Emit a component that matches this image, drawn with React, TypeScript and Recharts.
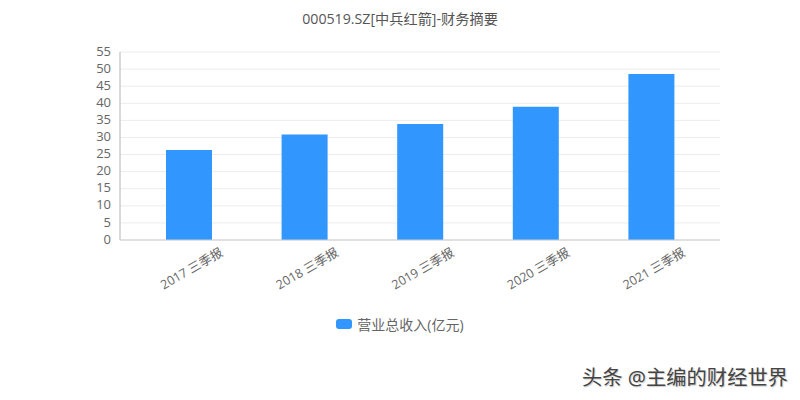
import { Bar, BarChart, CartesianGrid, Legend, XAxis, YAxis } from "recharts";

const categories = ["2017 三季报", "2018 三季报", "2019 三季报", "2020 三季报", "2021 三季报"];
const revenue = [26.3, 30.9, 33.9, 39.0, 48.6];
const yTicks = [0, 5, 10, 15, 20, 25, 30, 35, 40, 45, 50, 55];
const seriesName = "营业总收入(亿元)";
const title = "000519.SZ[中兵红箭]-财务摘要";
const watermark = "头条 @主编的财经世界";

const FONT = '"Open Sans", "Noto Sans CJK SC", sans-serif';

const chartData = categories.map((name, i) => ({ name, revenue: revenue[i] }));

function AngledTick({ x, y, payload }: any) {
  return (
    <text
      x={x}
      y={y}
      dx={35}
      dy={7}
      fill="#666"
      fontSize={12.5}
      fontFamily={FONT}
      textAnchor="end"
      transform={`rotate(-30 ${x + 35} ${y + 7})`}
    >
      {payload.value}
    </text>
  );
}

function LegendBox() {
  return (
    <div
      style={{
        display: "flex",
        justifyContent: "center",
        alignItems: "center",
        fontFamily: FONT,
        fontSize: 14,
        color: "#666",
      }}
    >
      <span
        style={{
          width: 16,
          height: 10,
          marginRight: 5,
          borderRadius: 3,
          background: "#3196fe",
        }}
      />
      {seriesName}
    </div>
  );
}

export default function App() {
  return (
    <div style={{ position: "absolute", left: 0, top: 0, width: 800, height: 400, background: "#fff" }}>
      <div
        style={{
          position: "absolute",
          top: 8,
          width: 800,
          textAlign: "center",
          fontFamily: FONT,
          fontSize: 14.2,
          color: "#555",
        }}
      >
        {title}
      </div>
      <BarChart
        width={800}
        height={400}
        data={chartData}
        margin={{ top: 52, right: 80, bottom: 80, left: 80 }}
      >
        <CartesianGrid vertical={false} stroke="#ececec" />
        <XAxis
          dataKey="name"
          interval={0}
          height={60}
          tick={<AngledTick />}
          tickLine={false}
          axisLine={{ stroke: "#ccc" }}
          padding={{ left: 11, right: 11 }}
        />
        <YAxis
          domain={[0, 55]}
          ticks={yTicks}
          interval={0}
          width={40}
          tick={{ fill: "#666", fontSize: 13, fontFamily: FONT, dx: -1, dy: -1 }}
          tickLine={false}
          axisLine={{ stroke: "#ccc", strokeWidth: 1.5 }}
        />
        <Legend
          content={<LegendBox />}
          layout="horizontal"
          verticalAlign="bottom"
          wrapperStyle={{ position: "absolute", top: 314, left: 0, width: 800 }}
        />
        <Bar dataKey="revenue" name={seriesName} fill="#3196fe" barSize={46} isAnimationActive={false} />
      </BarChart>
      <div
        style={{
          position: "absolute",
          left: 582,
          top: 361,
          fontFamily: FONT,
          fontSize: 20.3,
          color: "#444",
          textShadow: "1px 1px 1px #ccc",
        }}
      >
        {watermark}
      </div>
    </div>
  );
}
